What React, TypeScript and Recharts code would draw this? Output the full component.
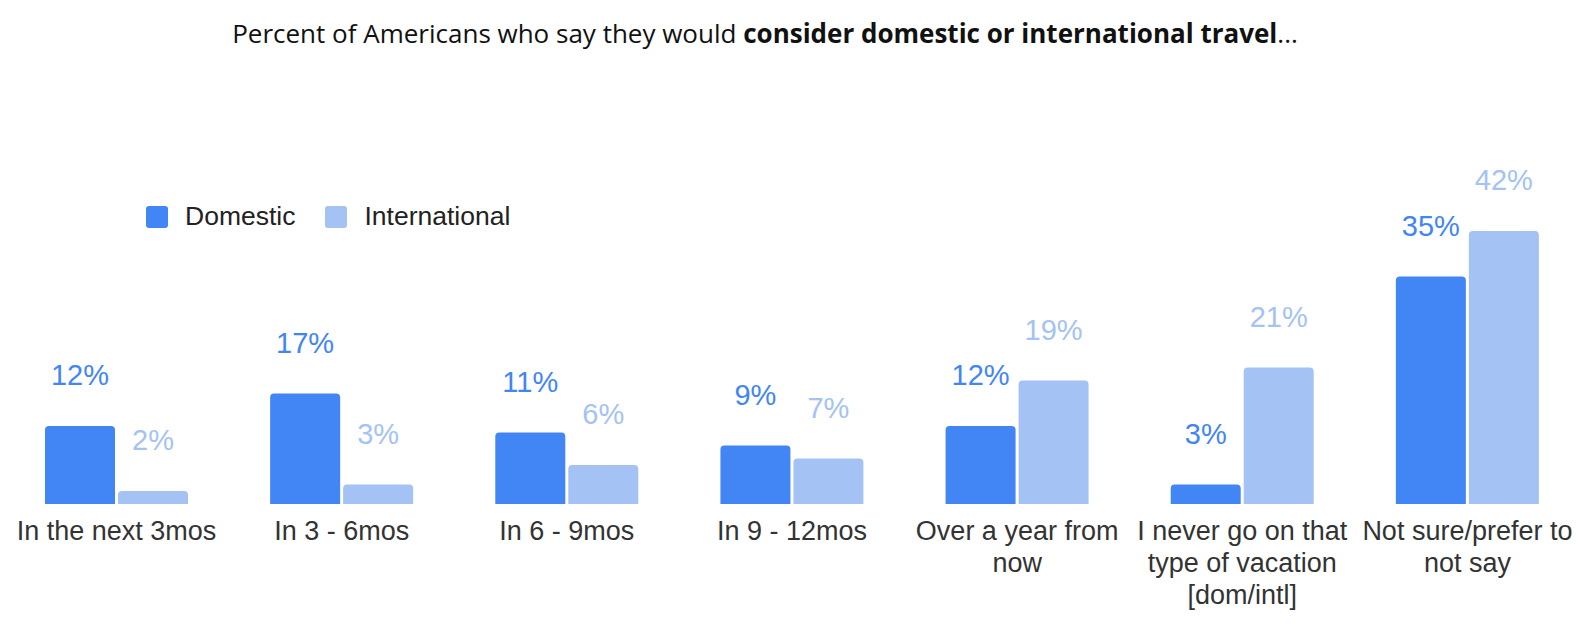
import { BarChart, Bar, XAxis, YAxis, LabelList } from "recharts";

const categories = [
  "In the next 3mos",
  "In 3 - 6mos",
  "In 6 - 9mos",
  "In 9 - 12mos",
  "Over a year from\nnow",
  "I never go on that\ntype of vacation\n[dom/intl]",
  "Not sure/prefer to\nnot say",
];
const domestic = [12, 17, 11, 9, 12, 3, 35];
const international = [2, 3, 6, 7, 19, 21, 42];

const data = categories.map((name, i) => ({
  name,
  domestic: domestic[i],
  international: international[i],
}));

const DOM = "#4285f4";
const INTL = "#a4c2f4";
const FONT = "'Liberation Sans', Arial, sans-serif";

const CategoryTick = (props: any) => {
  const { x, y, payload } = props;
  const lines = String(payload.value).split("\n");
  return (
    <text x={x} y={y} textAnchor="middle" fill="#333" fontSize={27} fontFamily={FONT}>
      {lines.map((l, i) => (
        <tspan key={i} x={x} dy={i === 0 ? 36 : 32}>
          {l}
        </tspan>
      ))}
    </text>
  );
};

const pct = (v: any) => `${v}%`;

export default function App() {
  return (
    <div style={{ position: "fixed", left: 0, top: 0, width: 1583, height: 631, background: "#fff" }}>
      <div
        style={{
          position: "absolute",
          left: 0,
          width: 1530,
          top: 15,
          textAlign: "center",
          fontFamily: "'Open Sans', sans-serif",
          fontSize: 26,
          color: "#111",
        }}
      >
        Percent of Americans who say they would <b>consider domestic or international travel</b>...
      </div>
      {/* legend */}
      <div
        style={{
          position: "absolute",
          left: 146,
          top: 201,
          display: "flex",
          alignItems: "center",
          fontFamily: FONT,
          fontSize: 26.5,
          color: "#222",
        }}
      >
        <span style={{ width: 22, height: 22, background: DOM, borderRadius: 3, marginRight: 17 }} />
        <span style={{ marginRight: 30 }}>Domestic</span>
        <span style={{ width: 22, height: 22, background: INTL, borderRadius: 3, marginRight: 17 }} />
        <span>International</span>
      </div>
      <BarChart
        width={1583}
        height={631}
        data={data}
        margin={{ top: 231, right: 3, left: 4, bottom: 27 }}
        barCategoryGap={41}
        barGap={3}
      >
        <XAxis
          dataKey="name"
          height={100}
          axisLine={false}
          tickLine={false}
          tickSize={0}
          tickMargin={0}
          interval={0}
          tick={<CategoryTick />}
        />
        <YAxis hide width={0} domain={[0, 42]} />
        <Bar dataKey="domestic" fill={DOM} radius={[4, 4, 0, 0]} isAnimationActive={false}>
          <LabelList dataKey="domestic" position="top" offset={41} formatter={pct} fill={DOM} fontSize={29} fontFamily={FONT} />
        </Bar>
        <Bar dataKey="international" fill={INTL} radius={[4, 4, 0, 0]} isAnimationActive={false}>
          <LabelList dataKey="international" position="top" offset={41} formatter={pct} fill={INTL} fontSize={29} fontFamily={FONT} />
        </Bar>
      </BarChart>
    </div>
  );
}
